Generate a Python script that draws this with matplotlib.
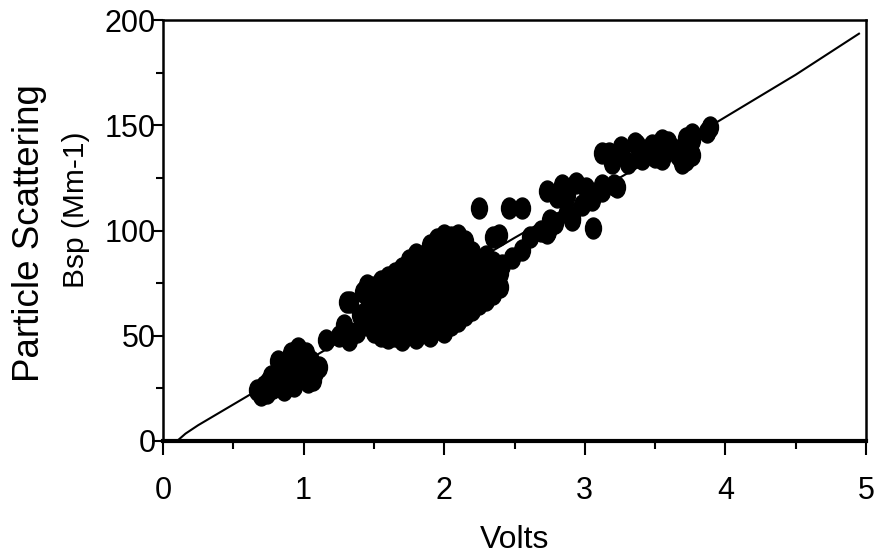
import numpy as np
import matplotlib
matplotlib.use('Agg')
import matplotlib.pyplot as plt
from matplotlib.path import Path
from matplotlib.transforms import Affine2D

plt.rcParams['font.family'] = ['Liberation Sans', 'DejaVu Sans']

# fitted line vertices (volts, Bsp)
line_x = [0.10, 0.16, 0.25, 0.60, 1.50, 2.50, 3.94, 4.45, 4.50, 4.95]
line_y = [0.0, 3.5, 7.5, 21.3, 57.0, 96.5, 151.5, 172.0, 174.0, 193.5]

# low cluster
low_x = [0.67, 0.72, 0.74, 0.75, 0.78, 0.80, 0.82, 0.85, 0.86, 0.88, 0.90, 0.91,
         0.95, 0.96, 1.00, 1.02, 1.05, 1.07, 1.08, 1.11, 0.77, 0.83, 0.93, 0.98,
         0.70, 0.88, 0.97, 1.03]
low_y = [24, 26, 23, 28, 25, 30, 38, 33, 24, 27, 35, 42,
         30, 44, 36, 42, 38, 29, 33, 35, 31, 29, 26, 32,
         22, 37, 39, 28]

# transition between clusters
mid_x = [1.16, 1.29, 1.31, 1.32, 1.33, 1.38, 1.40, 1.42, 1.45, 1.25]
mid_y = [48, 55, 66, 48, 66, 52, 60, 71, 57, 50]

# main cluster
main_cols = {
    1.45: [55, 62, 70, 74],
    1.50: [52, 58, 65, 73],
    1.55: [50, 56, 63, 70, 76],
    1.60: [49, 55, 62, 68, 74, 78],
    1.65: [50, 57, 64, 71, 80],
    1.70: [48, 54, 60, 67, 74, 82],
    1.75: [51, 58, 65, 72, 79, 86],
    1.80: [49, 55, 62, 69, 76, 84, 89],
    1.85: [52, 60, 67, 74, 81, 88],
    1.90: [50, 57, 64, 71, 78, 86, 93],
    1.95: [53, 61, 68, 75, 83, 90, 96],
    2.00: [52, 58, 65, 72, 80, 87, 94, 98],
    2.05: [55, 62, 70, 77, 84, 91, 97],
    2.10: [57, 64, 72, 79, 86, 93, 98],
    2.15: [60, 67, 74, 81, 88, 95],
    2.20: [62, 69, 76, 83, 90],
    2.25: [65, 72, 79, 86],
    2.30: [67, 74, 81, 88],
    2.35: [70, 78, 85, 97],
    2.40: [73, 80],
}
main_x = [vx for vx, ys in main_cols.items() for _ in ys]
main_y = [vy for ys in main_cols.values() for vy in ys]

# upper branch 2.2 - 3.1 V
up_x = [2.25, 2.46, 2.55, 2.39, 2.41, 2.48, 2.55, 2.61, 2.69, 2.74, 2.75, 2.79,
        2.87, 2.91, 2.73, 2.78, 2.91, 3.06, 2.73, 2.80, 2.84, 2.87, 2.94, 2.98,
        3.01, 3.05, 3.12, 3.23, 3.21, 3.12]
up_y = [110.7, 110.7, 110.7, 98, 83.6, 87, 90.7, 97, 100, 100, 105, 103.5,
        109, 106, 99, 103.5, 105, 101, 119, 116, 121.6, 117, 122.6, 112,
        120, 114.5, 121.6, 120.7, 121.6, 119]

# high cluster 3.1 - 3.9 V
high_x = [3.12, 3.17, 3.19, 3.19, 3.26, 3.31, 3.36, 3.37, 3.41, 3.41, 3.48, 3.50,
          3.55, 3.55, 3.59, 3.66, 3.69, 3.69, 3.71, 3.72, 3.72, 3.76, 3.76, 3.76,
          3.87, 3.89, 3.26, 3.45, 3.62]
high_y = [137, 136.8, 133.5, 132, 139.7, 132, 141.6, 140.6, 134, 136.8, 140.6, 135,
          143, 134, 142, 136, 138, 132, 135, 133.5, 144, 143, 146, 136,
          147, 149, 138, 138, 139]

vx = low_x + mid_x + main_x + up_x + high_x
vy = low_y + mid_y + main_y + up_y + high_y

W, H = 882, 558
fig = plt.figure(figsize=(W / 100, H / 100), dpi=100)
ax = fig.add_axes([163 / W, 1 - 441 / H, (866 - 163) / W, (441 - 20) / H])

# oval marker, a bit taller than wide
oval = Path.unit_circle().transformed(Affine2D().scale(16 / 21, 1.0))

ax.plot(line_x, line_y, color='black', lw=1.5, zorder=2)
ax.plot(vx, vy, linestyle='none', marker=oval, markersize=15.1,
        color='black', zorder=3)

ax.set_xlim(0, 5)
ax.set_ylim(0, 200)
ax.set_xticks(np.arange(0, 6, 1))
ax.set_xticks(np.arange(0.5, 5, 1), minor=True)
ax.set_yticks(np.arange(0, 201, 50))
ax.set_yticks(np.arange(25, 200, 50), minor=True)

for s in ['left', 'top', 'right']:
    ax.spines[s].set_linewidth(1.8)
ax.spines['bottom'].set_linewidth(3)

ax.tick_params(axis='x', which='major', length=10, width=1.5, labelsize=22, pad=15)
ax.tick_params(axis='x', which='minor', length=6, width=1.5)
ax.tick_params(axis='y', which='major', length=8, width=1.5, labelsize=22, pad=-3)
ax.tick_params(axis='y', which='minor', length=5, width=1.5)

fig.text(515 / W, 1 - 540 / H, 'Volts', fontsize=23, ha='center', va='center')
fig.text(30 / W, 1 - 233 / H, 'Particle Scattering', fontsize=26.5,
         rotation=90, ha='center', va='center')
fig.text(76 / W, 1 - 210 / H, 'Bsp (Mm-1)', fontsize=21.5,
         rotation=90, ha='center', va='center')

fig.savefig('out.png', dpi=100)
